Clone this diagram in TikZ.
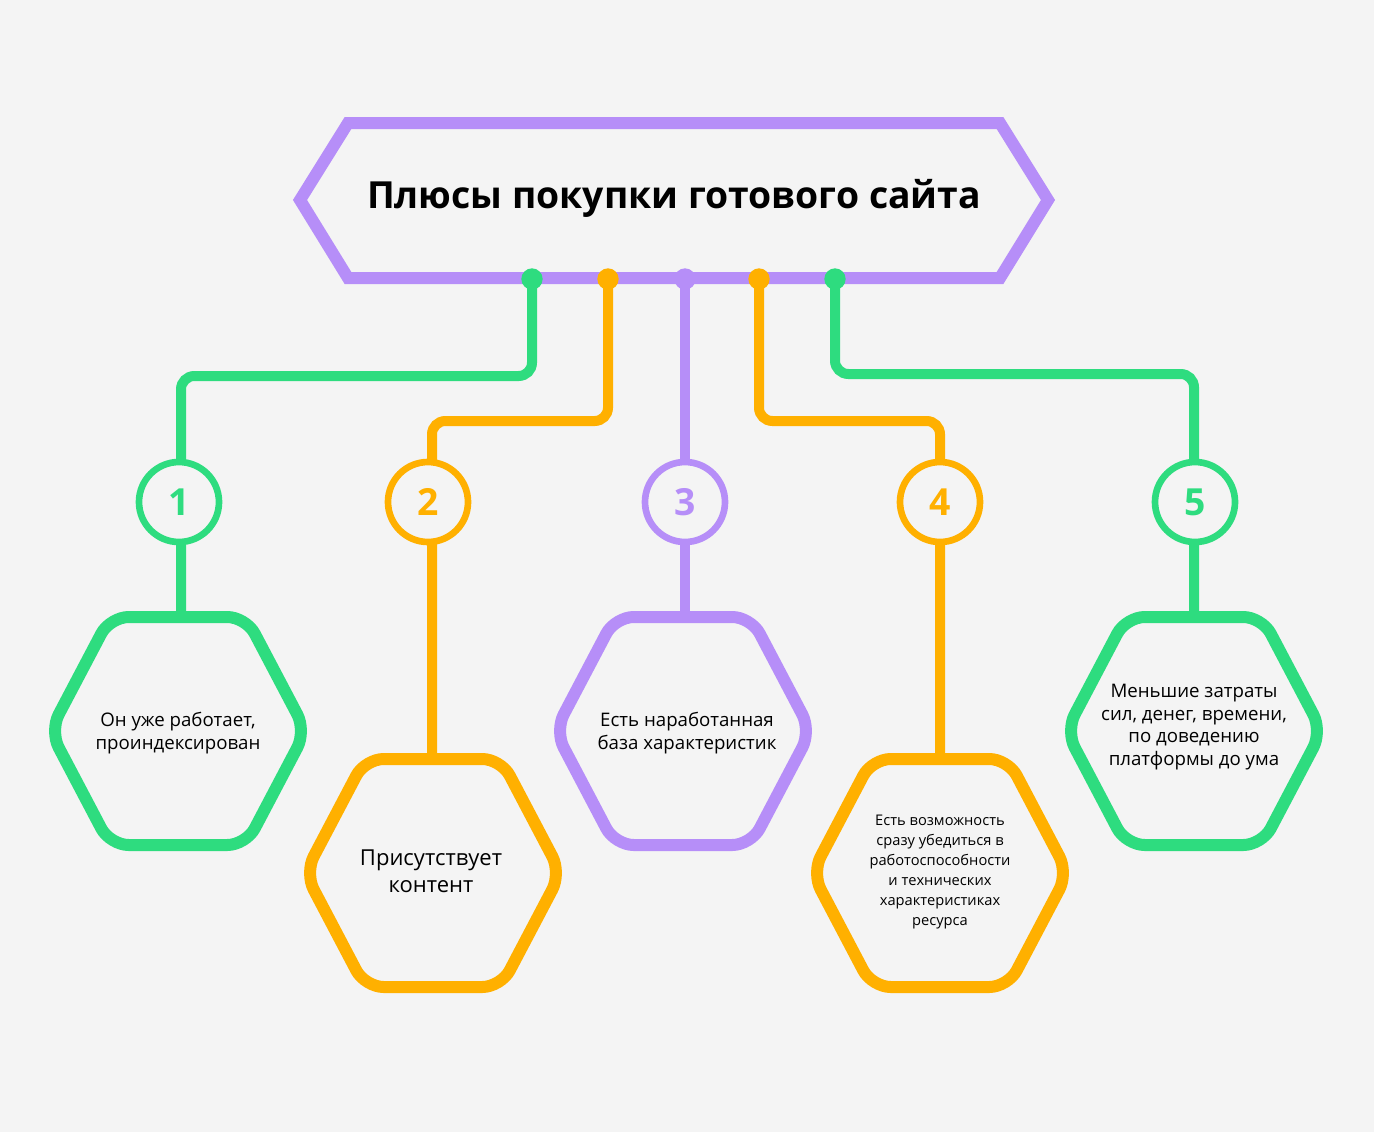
\documentclass[tikz,border=0pt]{standalone}
\usepackage{fontspec}
\setmainfont{Open Sans}
\definecolor{cg}{HTML}{2EDC7F}
\definecolor{co}{HTML}{FFB000}
\definecolor{cp}{HTML}{B68EF8}
\definecolor{bg}{HTML}{F4F4F4}
\begin{document}
\begin{tikzpicture}[x=0.75pt,y=-0.75pt,
  conn/.style={line width=7.5pt,rounded corners=10pt},
  hexb/.style={line width=9pt,rounded corners=14pt,line join=round},
  num/.style={circle,draw,line width=5pt,fill=bg,minimum size=60pt,inner sep=0pt,font=\fontsize{28}{30}\selectfont\bfseries},
  txt/.style={align=center,font=\fontsize{14}{17}\selectfont}]
\fill[bg] (0,0) rectangle (1374,1132);
\useasboundingbox (0,0) rectangle (1374,1132);
% connectors
\draw[conn,cg] (532,279) -- (532,376) -- (181,376) -- (181,612);
\draw[conn,co] (608,279) -- (608,421) -- (432,421) -- (432,757);
\draw[conn,cp] (685,279) -- (685,612);
\draw[conn,co] (759,279) -- (759,421) -- (940,421) -- (940,757);
\draw[conn,cg] (835,279) -- (835,374) -- (1194,374) -- (1194,612);
% title
\draw[line width=9pt,cp,line join=miter] (300,200) -- (348,123) -- (1000,123) -- (1048,200) -- (1000,278) -- (348,278) -- cycle;
\node[font=\fontsize{28}{30}\selectfont\bfseries] (title) at (674,198) {Плюсы покупки готового сайта};
\foreach \x/\c in {532/cg,608/co,685/cp,759/co,835/cg} \fill[\c] (\x,279) circle (8pt);
% number circles
\node[num,draw=cg,text=cg] (n1) at (179,502) {1};
\node[num,draw=co,text=co] (n2) at (428,502) {2};
\node[num,draw=cp,text=cp] (n3) at (685,502) {3};
\node[num,draw=co,text=co] (n4) at (940,502) {4};
\node[num,draw=cg,text=cg] (n5) at (1195,502) {5};
% hexagons
\foreach \cx/\cy/\c in {178/731/cg,433/873/co,683/731/cp,940/873/co,1194/731/cg}
  \draw[hexb,\c,fill=bg] (\cx-128,\cy) -- (\cx-68,\cy-114) -- (\cx+68,\cy-114) -- (\cx+128,\cy) -- (\cx+68,\cy+114) -- (\cx-68,\cy+114) -- cycle;
\node[txt] (h1) at (178,733) {Он уже работает,\\проиндексирован};
\node[txt,font=\fontsize{16.5}{20}\selectfont] (h2) at (431,871) {Присутствует\\контент};
\node[txt] (h3) at (687,733) {Есть наработанная\\база характеристик};
\node[txt,font=\fontsize{11}{15}\selectfont] (h4) at (940,872) {Есть возможность\\сразу убедиться в\\работоспособности\\и технических\\характеристиках\\ресурса};
\node[txt] (h5) at (1194,727) {Меньшие затраты\\сил, денег, времени,\\по доведению\\платформы до ума};
\end{tikzpicture}
\end{document}
